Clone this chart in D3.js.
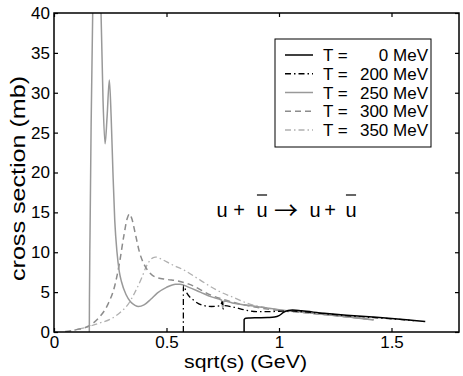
<!DOCTYPE html>
<html>
<head>
<meta charset="utf-8">
<script src="https://cdn.jsdelivr.net/npm/d3@7"></script>
<style>
  html, body { margin: 0; padding: 0; background: #fff; }
  svg { display: block; font-family: "Liberation Sans", Arial, Helvetica, sans-serif; }
</style>
</head>
<body>
<svg id="chart" width="463" height="376"></svg>
<script>
// ---------------- data ----------------
const xTicks = [0, 0.5, 1, 1.5];
const yTicks = [0, 5, 10, 15, 20, 25, 30, 35, 40];

const legendNames = ["0", "200", "250", "300", "350"];

// T = 0 MeV
const s0 = [0.8449, 0.845, 0.852, 0.87, 0.9, 0.95, 0.98, 1.0, 1.02, 1.04, 1.06, 1.1, 1.2, 1.3, 1.4, 1.5, 1.6, 1.65];
const v0 = [0, 1.55, 1.72, 1.75, 1.78, 1.82, 1.88, 2.05, 2.45, 2.7, 2.75, 2.65, 2.35, 2.1, 1.9, 1.7, 1.45, 1.32];

// T = 200 MeV
const s200 = [0.5749, 0.575, 0.59, 0.62, 0.66, 0.7, 0.74, 0.748, 0.752, 0.758, 0.8, 0.85, 0.9, 0.95, 1.0, 1.05, 1.1, 1.2, 1.3, 1.4, 1.5, 1.6];
const v200 = [0, 5.8, 4.9, 4.0, 3.35, 3.2, 3.3, 3.8, 2.9, 3.3, 3.1, 2.75, 2.55, 2.55, 2.6, 2.65, 2.55, 2.3, 2.05, 1.85, 1.65, 1.42];

// T = 250 MeV
const s250 = [0.157, 0.1575, 0.16, 0.165, 0.172, 0.18, 0.19, 0.2, 0.209, 0.218, 0.227, 0.236, 0.246, 0.254, 0.262, 0.27, 0.28, 0.29, 0.3, 0.32, 0.34, 0.36, 0.375, 0.4, 0.43, 0.46, 0.5, 0.54, 0.56, 0.6, 0.65, 0.7, 0.745, 0.75, 0.755, 0.8, 0.9, 1.0, 1.1, 1.2, 1.3, 1.42];
const v250 = [0, 4, 12, 26, 40, 52, 58, 54, 40, 29, 23.6, 27, 31.6, 27, 20, 14, 10, 7.6, 6.3, 4.7, 3.8, 3.35, 3.2, 3.4, 4.1, 4.9, 5.6, 6.0, 6.0, 5.6, 5.0, 4.4, 4.0, 3.0, 3.9, 3.6, 3.2, 2.8, 2.5, 2.2, 1.9, 1.5];

// T = 300 MeV
const s300 = [0.05, 0.1, 0.157, 0.2, 0.24, 0.27, 0.29, 0.31, 0.325, 0.335, 0.345, 0.36, 0.38, 0.4, 0.42, 0.45, 0.5, 0.55, 0.6, 0.7, 0.8, 0.9, 1.0, 1.1, 1.2, 1.3, 1.42];
const v300 = [0.05, 0.3, 0.8, 1.8, 3.5, 5.8, 8.5, 12, 14.2, 14.8, 14.3, 12.5, 10, 8.5, 7.6, 6.9, 6.6, 6.4, 6.0, 4.6, 3.7, 3.1, 2.7, 2.45, 2.2, 1.9, 1.55];

// T = 350 MeV
const s350 = [0.05, 0.1, 0.157, 0.2, 0.25, 0.3, 0.33, 0.36, 0.39, 0.41, 0.43, 0.45, 0.48, 0.52, 0.575, 0.65, 0.72, 0.8, 0.87, 0.95, 1.0, 1.1, 1.2, 1.3, 1.42];
const v350 = [0, 0.3, 0.7, 1.1, 1.6, 2.6, 3.5, 5.0, 6.8, 8.2, 9.1, 9.4, 9.1, 8.5, 7.8, 6.5, 5.3, 4.3, 3.5, 3.0, 2.75, 2.45, 2.2, 1.9, 1.55];

// ---------------- drawing ----------------
const svg = d3.select("#chart");
const L = 54, R = 459, T = 13, B = 332;
const x = d3.scaleLinear().domain([0, 1.8]).range([L, R]);
const y = d3.scaleLinear().domain([0, 40]).range([B, T]);

const series = [
  {s: s0,   v: v0,   color: "#000",    dash: null,        w: 1.5},
  {s: s200, v: v200, color: "#000",    dash: "6,3,1.5,3", w: 1.3},
  {s: s250, v: v250, color: "#999",    dash: null,        w: 1.5},
  {s: s300, v: v300, color: "#8c8c8c", dash: "6,4",       w: 1.5},
  {s: s350, v: v350, color: "#b0b0b0", dash: "6,3,1.5,3", w: 1.3}
];

svg.append("defs").append("clipPath").attr("id", "clip")
  .append("rect").attr("x", L).attr("y", T).attr("width", R - L).attr("height", B - T);

const line = d3.line().curve(d3.curveMonotoneX);
const g = svg.append("g").attr("clip-path", "url(#clip)");
[4, 3, 2, 1, 0].forEach(i => {
  const sr = series[i];
  g.append("path")
    .attr("d", line(sr.s.map((s, k) => [x(s), y(sr.v[k])])))
    .attr("fill", "none")
    .attr("stroke", sr.color)
    .attr("stroke-width", sr.w)
    .attr("stroke-dasharray", sr.dash);
});

// axes
function styleAxis(sel) {
  sel.select(".domain").remove();
  sel.selectAll(".tick line").attr("stroke", "#000").attr("stroke-width", 1.2);
  sel.selectAll(".tick text").attr("fill", "#000").attr("font-size", 17)
     .attr("font-family", "Liberation Sans, Arial, sans-serif");
}
svg.append("g").attr("transform", `translate(0,${B})`)
  .call(d3.axisBottom(x).tickValues(xTicks).tickSize(-4).tickSizeOuter(0).tickPadding(4).tickFormat(d3.format("")))
  .call(styleAxis);
svg.append("g").attr("transform", `translate(0,${T})`)
  .call(d3.axisTop(x).tickValues(xTicks).tickSize(-4).tickSizeOuter(0).tickFormat(""))
  .call(styleAxis);
svg.append("g").attr("transform", `translate(${L},0)`)
  .call(d3.axisLeft(y).tickValues(yTicks).tickSize(-4).tickSizeOuter(0).tickPadding(4))
  .call(styleAxis);
svg.append("g").attr("transform", `translate(${R},0)`)
  .call(d3.axisRight(y).tickValues(yTicks).tickSize(-4).tickSizeOuter(0).tickFormat(""))
  .call(styleAxis);

svg.append("rect").attr("x", L).attr("y", T).attr("width", R - L).attr("height", B - T)
  .attr("fill", "none").attr("stroke", "#000").attr("stroke-width", 1.5);

// axis labels
svg.append("text").attr("x", 184).attr("y", 368).attr("font-size", 19)
  .attr("textLength", 123).attr("lengthAdjust", "spacingAndGlyphs").text("sqrt(s) (GeV)");
svg.append("text").attr("transform", `translate(25,${(T + B) / 2 + 6}) rotate(-90)`)
  .attr("text-anchor", "middle").attr("font-size", 20)
  .attr("textLength", 205).attr("lengthAdjust", "spacingAndGlyphs").text("cross section (mb)");

// legend
const lg = svg.append("g");
lg.append("rect").attr("x", 275).attr("y", 39).attr("width", 156).attr("height", 108)
  .attr("fill", "#fff").attr("stroke", "#000").attr("stroke-width", 1);
series.forEach((sr, i) => {
  const ry = 55 + i * 18.75;
  lg.append("line").attr("x1", 285).attr("x2", 313).attr("y1", ry).attr("y2", ry)
    .attr("stroke", sr.color).attr("stroke-width", sr.w).attr("stroke-dasharray", sr.dash);
  lg.append("text").attr("x", 323).attr("y", ry + 6).attr("font-size", 17).text("T =");
  lg.append("text").attr("x", 428).attr("y", ry + 6).attr("font-size", 17)
    .attr("text-anchor", "end").text(legendNames[i] + " MeV");
});

// annotation: u + ū → u + ū
const annGlyphs = ["u", "+", "u", "\u2192", "u", "+", "u"];
const annX = [222, 239, 262, 286, 315, 330, 351];
const annSize = [20, 20, 20, 24, 20, 20, 20];
const annBar = [false, false, true, false, false, false, true];
const ann = svg.append("g");
annGlyphs.forEach((t, i) => {
  const tx = ann.append("text").attr("x", annX[i]).attr("y", i === 3 ? 219 : 217)
    .attr("text-anchor", "middle").attr("font-size", annSize[i])
    .attr("font-family", i === 3 ? "Noto Sans CJK SC, DejaVu Sans, sans-serif" : null)
    .text(t);
  if (annBar[i]) {
    const bb = tx.node().getBBox();
    ann.append("line").attr("x1", bb.x + 0.5).attr("x2", bb.x + bb.width - 0.5)
      .attr("y1", 195).attr("y2", 195).attr("stroke", "#000").attr("stroke-width", 1.2);
  }
});
</script>
</body>
</html>
